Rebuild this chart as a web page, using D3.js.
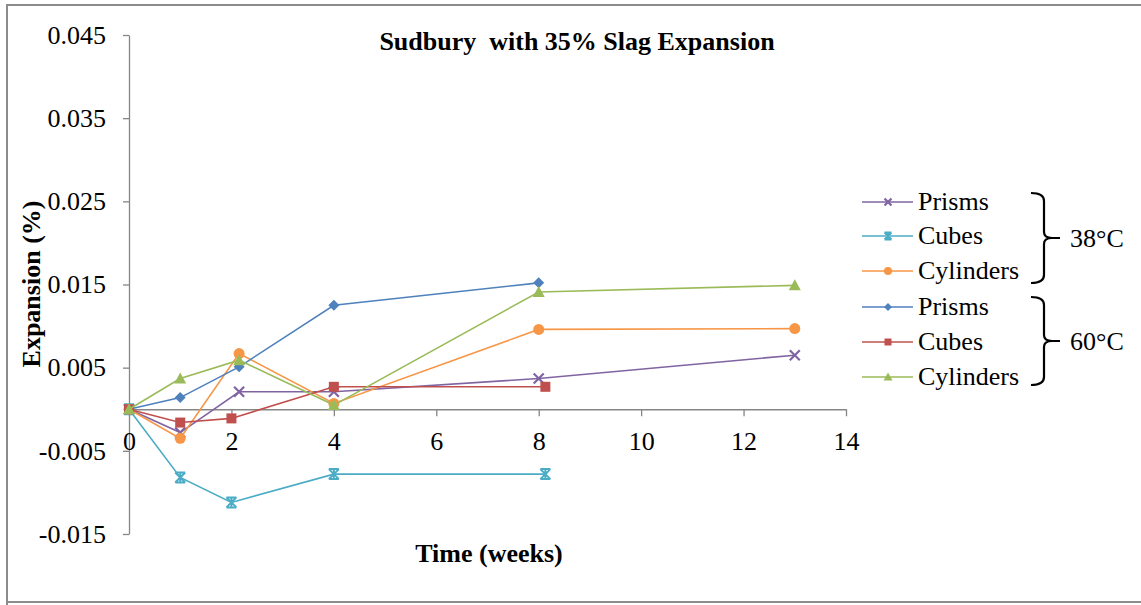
<!DOCTYPE html>
<html>
<head>
<meta charset="utf-8">
<script src="https://cdn.jsdelivr.net/npm/d3@7"></script>
<style>
  html, body { margin: 0; padding: 0; background: #fff; }
  svg { display: block; font-family: "Liberation Serif", "Times New Roman", serif; }
</style>
</head>
<body>
<svg id="chart" width="1141" height="605"></svg>
<script>
// Expansion readings (%) by age in weeks
const prisms38X = [0, 1, 2.15, 4, 8, 13];
const prisms38Y = [0, -0.0028, 0.0021, 0.0021, 0.0037, 0.0065];
const cubes38X = [0, 1, 2, 4, 8.13];
const cubes38Y = [0, -0.0082, -0.0112, -0.0078, -0.0078];
const cylinders38X = [0, 1, 2.15, 4, 8, 13];
const cylinders38Y = [0, -0.0035, 0.0067, 0.0007, 0.0096, 0.0097];
const prisms60X = [0, 1, 2.15, 4, 8];
const prisms60Y = [0, 0.0014, 0.0051, 0.0125, 0.0152];
const cubes60X = [0, 1, 2, 4, 8.13];
const cubes60Y = [0, -0.0016, -0.0011, 0.0027, 0.0027];
const cylinders60X = [0, 1, 2.15, 4, 8, 13];
const cylinders60Y = [0, 0.0037, 0.0059, 0.0005, 0.0141, 0.0149];

const seriesNames = ["Prisms", "Cubes", "Cylinders", "Prisms", "Cubes", "Cylinders"];
const groupLabels = ["38°C", "60°C"];
const xTicks = [0, 2, 4, 6, 8, 10, 12, 14];
const yTicks = [-0.015, -0.005, 0.005, 0.015, 0.025, 0.035, 0.045];
const chartTitle = "Sudbury  with 35% Slag Expansion";
const xTitle = "Time (weeks)";
const yTitle = "Expansion (%)";

const series = [
  { name: seriesNames[0], xs: prisms38X, ys: prisms38Y, color: "#8064A2", marker: "x" },
  { name: seriesNames[1], xs: cubes38X, ys: cubes38Y, color: "#4BACC6", marker: "star" },
  { name: seriesNames[2], xs: cylinders38X, ys: cylinders38Y, color: "#F79646", marker: "circle" },
  { name: seriesNames[3], xs: prisms60X, ys: prisms60Y, color: "#4F81BD", marker: "diamond" },
  { name: seriesNames[4], xs: cubes60X, ys: cubes60Y, color: "#C0504D", marker: "square" },
  { name: seriesNames[5], xs: cylinders60X, ys: cylinders60Y, color: "#9BBB59", marker: "triangle" }
];

const FS = 26;
const svg = d3.select("#chart");

// chart frame
svg.append("path")
  .attr("d", "M7,610 L7,5 L1150,5 M7,602 L1150,602")
  .attr("fill", "none")
  .attr("stroke", "#8c8c8c")
  .attr("stroke-width", 2);

const x = d3.scaleLinear().domain([0, 14]).range([129, 846]);
const y = d3.scaleLinear().domain([-0.015, 0.045]).range([534, 35]);

const axisColor = "#868686";
const fmt = d3.formatLocale({ decimal: ".", thousands: ",", grouping: [3], currency: ["", ""], minus: "-" }).format(".3f");

// y axis
const gy = svg.append("g")
  .attr("transform", `translate(${x(0)},0)`)
  .call(d3.axisLeft(y).tickValues(yTicks).tickSize(6).tickSizeOuter(0).tickPadding(17).tickFormat(fmt));
gy.select(".domain").attr("stroke", axisColor).attr("stroke-width", 1.3);
gy.selectAll(".tick line").attr("stroke", axisColor).attr("stroke-width", 1.3);
gy.selectAll(".tick text").attr("font-size", FS).attr("font-family", "Liberation Serif").attr("fill", "#000");

// x axis at zero
const gx = svg.append("g")
  .attr("transform", `translate(0,${y(0)})`)
  .call(d3.axisBottom(x).tickValues(xTicks).tickSize(7).tickSizeOuter(0).tickPadding(15).tickFormat(d3.format("d")));
gx.select(".domain").attr("stroke", axisColor).attr("stroke-width", 1.3);
gx.selectAll(".tick line").attr("stroke", axisColor).attr("stroke-width", 1.3);
gx.selectAll(".tick text").attr("font-size", FS).attr("font-family", "Liberation Serif").attr("fill", "#000");

// titles
svg.append("text")
  .attr("x", 577).attr("y", 50)
  .attr("text-anchor", "middle")
  .attr("font-size", FS).attr("font-weight", "bold")
  .style("white-space", "pre")
  .text(chartTitle);

svg.append("text")
  .attr("x", 489).attr("y", 562)
  .attr("text-anchor", "middle")
  .attr("font-size", FS).attr("font-weight", "bold")
  .text(xTitle);

svg.append("text")
  .attr("transform", "translate(40,284) rotate(-90)")
  .attr("text-anchor", "middle")
  .attr("font-size", FS).attr("font-weight", "bold")
  .text(yTitle);

// marker drawing
function drawMarker(g, type, color, s) {
  const h = s / 2;
  if (type === "x") {
    g.append("path").attr("d", `M${-h},${-h}L${h},${h}M${-h},${h}L${h},${-h}`)
      .attr("stroke", color).attr("stroke-width", 2.2).attr("fill", "none");
  } else if (type === "star") {
    g.append("path").attr("d", `M${-h},${-h}L${h},${h}M${-h},${h}L${h},${-h}M0,${-h}L0,${h}M${-h},${-h}L${h},${-h}M${-h},${h}L${h},${h}`)
      .attr("stroke", color).attr("stroke-width", 2).attr("fill", "none");
  } else if (type === "circle") {
    g.append("circle").attr("r", h + 0.5).attr("fill", color);
  } else if (type === "diamond") {
    g.append("path").attr("d", `M0,${-h - 0.5}L${h + 0.5},0L0,${h + 0.5}L${-h - 0.5},0Z`).attr("fill", color);
  } else if (type === "square") {
    g.append("rect").attr("x", -h).attr("y", -h).attr("width", s).attr("height", s).attr("fill", color);
  } else if (type === "triangle") {
    g.append("path").attr("d", `M0,${-h - 1}L${h + 1},${h}L${-h - 1},${h}Z`).attr("fill", color);
  }
}

const line = d3.line().x(d => x(d[0])).y(d => y(d[1]));

series.forEach(s => {
  const pts = s.xs.map((v, i) => [v, s.ys[i]]);
  const g = svg.append("g");
  g.append("path")
    .attr("d", line(pts))
    .attr("fill", "none")
    .attr("stroke", s.color)
    .attr("stroke-width", 1.6);
  pts.forEach(p => {
    const m = g.append("g").attr("transform", `translate(${x(p[0])},${y(p[1])})`);
    drawMarker(m, s.marker, s.color, 10);
  });
});

// legend
const legendY = [202, 236, 271, 307, 342, 377];
series.forEach((s, i) => {
  const g = svg.append("g").attr("transform", `translate(0,${legendY[i]})`);
  g.append("line").attr("x1", 862).attr("x2", 913).attr("y1", 0).attr("y2", 0)
    .attr("stroke", s.color).attr("stroke-width", 1.6);
  const m = g.append("g").attr("transform", "translate(888,0)");
  drawMarker(m, s.marker, s.color, 7);
  g.append("text").attr("x", 918).attr("y", 8)
    .attr("font-size", FS).attr("fill", "#000").text(s.name);
});

// group braces
function brace(top, bottom, label) {
  const mid = (top + bottom) / 2;
  const xl = 1031, xv = 1044, xt = 1060;
  svg.append("path")
    .attr("d", `M${xl},${top} Q${xv},${top} ${xv},${top + 8} L${xv},${mid - 6} Q${xv},${mid} ${xt - 8},${mid} L${xt},${mid}
                M${xv},${mid + 6} Q${xv},${mid} ${xt - 8},${mid}
                M${xv},${mid + 6} L${xv},${bottom - 8} Q${xv},${bottom} ${xl},${bottom}`)
    .attr("fill", "none").attr("stroke", "#000").attr("stroke-width", 2.2);
  svg.append("text").attr("x", 1070).attr("y", mid + 9)
    .attr("font-size", FS).attr("fill", "#000").text(label);
}
brace(193, 283, groupLabels[0]);
brace(297, 385, groupLabels[1]);
</script>
</body>
</html>
